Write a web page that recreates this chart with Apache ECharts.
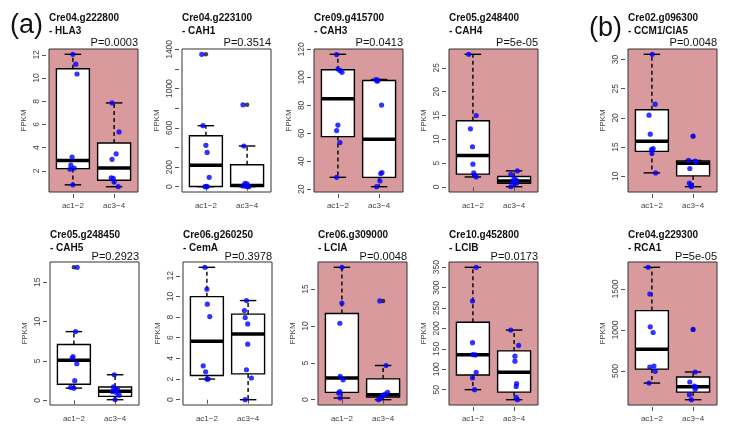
<!DOCTYPE html>
<html><head><meta charset="utf-8">
<script src="https://cdn.jsdelivr.net/npm/echarts@6/dist/echarts.min.js"></script>
<style>html,body{margin:0;padding:0;background:#fff}#c{width:736px;height:443px}</style>
</head><body><div id="c"></div>
<script>
// ---------- DATA ----------
const categories = ['ac1\u22122', 'ac3\u22124'];
const geneIds = ['Cre04.g222800','Cre04.g223100','Cre09.g415700','Cre05.g248400','Cre02.g096300',
                 'Cre05.g248450','Cre06.g260250','Cre06.g309000','Cre10.g452800','Cre04.g229300'];
const geneNames = ['- HLA3','- CAH1','- CAH3','- CAH4','- CCM1/CIA5','- CAH5','- CemA','- LCIA','- LCIB','- RCA1'];
const pLabels = ['P=0.0003','P=0.3514','P=0.0413','P=5e-05','P=0.0048','P=0.2923','P=0.3978','P=0.0048','P=0.0173','P=5e-05'];
const significant = [true,false,true,true,true,false,false,true,true,true];
const yTicks = [
  [2,4,6,8,10,12],
  [0,200,400,600,800,1000,1200,1400],
  [20,40,60,80,100,120],
  [0,5,10,15,20,25],
  [10,15,20,25,30],
  [0,5,10,15],
  [0,2,4,6,8,10,12],
  [0,5,10,15],
  [50,100,150,200,250,300,350],
  [500,1000,1500]
];
const yTickLabels = [
  [2,4,6,8,10,12],
  [0,200,600,1000,1400],
  [20,40,60,80,100,120],
  [0,5,10,15,20,25],
  [10,15,20,25,30],
  [0,5,10,15],
  [0,2,4,6,8,10,12],
  [0,5,10,15],
  [50,100,150,200,250,300,350],
  [500,1000,1500]
];
// five-number box stats: [lower whisker, Q1, median, Q3, upper whisker]
const boxAc12 = [
  [0.8, 2.2, 2.9, 10.8, 12.05],
  [0, 2, 220, 520, 622],
  [28.6, 57.7, 84.7, 105.5, 116.5],
  [2.1, 2.7, 6.6, 13.9, 27.85],
  [10.57, 14.25, 16.0, 21.4, 30.9],
  [1.55, 2.05, 5.1, 7.1, 8.73],
  [2.0, 2.35, 5.67, 9.98, 12.82],
  [0.23, 1.0, 2.96, 11.7, 17.96],
  [50, 86, 135.5, 215, 349.8],
  [353, 523, 765, 1237, 1765]
];
const boxAc34 = [
  [0.64, 1.2, 2.25, 4.4, 7.86],
  [0, 3, 12, 224, 415],
  [21.9, 28.6, 55.8, 97.8, 98.5],
  [0.05, 0.77, 1.27, 2.2, 3.37],
  [8.2, 10.05, 12.2, 12.6, 12.7],
  [0.08, 0.5, 1.14, 1.7, 3.25],
  [0, 2.5, 6.36, 8.29, 9.6],
  [0, 0.37, 0.68, 2.82, 4.64],
  [25.4, 44, 92.6, 145, 196],
  [150, 243, 308, 427, 488]
];
const outliersAc12 = [[],[1350],[],[],[],[16.9],[],[],[],[]];
const outliersAc34 = [[],[835],[],[],[16.86],[],[],[13.4],[],[1007]];
const pointsAc12 = [
  [12.05, 11.2, 10.35, 3.2, 2.5, 2.15, 2.25, 0.8],
  [1350, 622, 422, 350, 96, 0, 1, 3],
  [116.3, 106, 105, 103.6, 65.9, 62, 53.4, 28.6],
  [27.85, 15.0, 12.2, 8.44, 4.77, 2.95, 2.5, 2.1],
  [30.9, 22.35, 20.46, 17.2, 14.75, 14.58, 13.9, 10.57],
  [16.9, 8.73, 5.57, 5.36, 4.65, 2.5, 1.65, 1.55],
  [12.82, 10.7, 9.25, 8.05, 3.28, 2.7, 2.0, 2.0],
  [17.96, 13.1, 10.37, 3.18, 2.7, 1.1, 0.9, 0.23],
  [349.8, 267.5, 165, 136, 135, 92.6, 78.8, 50],
  [1765, 1439, 1039, 970, 561, 549, 496, 353]
];
const jitterAc12 = [
  [0, 0.07, 0.1, -0.02, -0.05, -0.07, 0.03, 0],
  [-0.1, -0.07, 0, 0.03, 0.08, -0.02, 0.03, 0.01],
  [-0.03, 0, 0.05, 0.1, 0, -0.03, 0.05, -0.03],
  [-0.1, 0.08, -0.06, -0.01, 0, 0.02, 0.04, 0.08],
  [0.01, 0.08, -0.07, -0.04, 0.03, -0.01, 0, 0.09],
  [0.08, 0.04, -0.02, -0.04, 0.07, 0.02, -0.08, 0],
  [-0.05, 0, 0.01, 0.07, -0.09, -0.03, 0, 0.03],
  [0, 0, -0.05, -0.04, 0.03, -0.05, -0.08, -0.04],
  [0.08, -0.01, -0.01, 0, 0.06, 0.08, -0.01, 0.04],
  [-0.09, -0.05, -0.04, 0.03, 0.05, -0.05, 0.08, -0.07]
];
const pointsAc34 = [
  [7.86, 5.36, 3.47, 3.0, 1.4, 1.35, 1.05, 0.64],
  [835, 415, 34, 28, 8, 4, 2, 0],
  [98.5, 98.0, 97.3, 80.2, 32.0, 31.3, 26.0, 21.9],
  [3.37, 2.66, 1.8, 1.45, 1.1, 0.85, 0.7, 0.05],
  [16.86, 12.7, 12.6, 12.4, 11.3, 8.8, 8.5, 8.2],
  [3.25, 1.7, 1.45, 1.35, 1.1, 0.93, 0.65, 0.1],
  [9.6, 8.63, 7.95, 7.34, 5.38, 2.9, 2.1, 0],
  [13.4, 4.64, 1.0, 0.76, 0.6, 0.5, 0.2, 0],
  [196, 158.4, 132, 119.7, 64.8, 58, 31, 25.4],
  [1007, 488, 366, 316, 304, 276, 211, 150]
];
const jitterAc34 = [
  [-0.05, 0.12, 0.05, -0.05, -0.07, -0.02, 0, 0.1],
  [-0.1, -0.08, -0.05, 0, -0.1, -0.03, 0.02, 0.04],
  [-0.08, -0.03, -0.05, 0.06, 0.07, 0.04, 0.02, -0.06],
  [0.08, -0.08, 0, 0.05, -0.04, 0.06, 0.02, -0.08],
  [0, -0.11, 0.05, 0.07, -0.08, -0.09, -0.05, -0.04],
  [-0.02, -0.04, 0.02, 0.06, -0.06, 0.04, 0.1, 0],
  [-0.04, -0.09, -0.07, -0.01, -0.01, -0.04, 0.08, -0.07],
  [-0.08, 0.07, 0.11, 0.05, 0, -0.03, -0.07, -0.11],
  [-0.08, 0.11, 0.02, 0.02, 0.06, 0.05, 0.05, 0.08],
  [0, 0.05, -0.08, 0.03, 0.07, 0.05, -0.09, -0.04]
];

// ---------- LAYOUT ----------
const panelLeft = [49, 182, 314, 449, 628, 50, 183, 318, 449, 628];
const panelTop  = [49, 49, 49, 49, 49, 262, 262, 262, 262, 262];
const panelW = 89, panelH = 143;
const PINK = '#d99a9e';
const FONT = '"Liberation Sans", Arial, sans-serif';

const chart = echarts.init(document.getElementById('c'), null, {renderer: 'canvas'});

function renderBox(params, api) {
  const x = api.value(0);
  const mn = api.value(1), q1 = api.value(2), md = api.value(3), q3 = api.value(4), mx = api.value(5);
  const hw = 0.4, sw = 0.2;
  const P = (a, b) => api.coord([a, b]);
  const lw = 1.4;
  const ch = [];
  const w1 = P(x, q3), w2 = P(x, mx), w3 = P(x, q1), w4 = P(x, mn);
  ch.push({type: 'line', shape: {x1: w1[0], y1: w1[1], x2: w2[0], y2: w2[1]}, style: {stroke: '#000', lineWidth: lw, lineDash: [4, 3]}});
  ch.push({type: 'line', shape: {x1: w3[0], y1: w3[1], x2: w4[0], y2: w4[1]}, style: {stroke: '#000', lineWidth: lw, lineDash: [4, 3]}});
  const s1 = P(x - sw, mx), s2 = P(x + sw, mx), s3 = P(x - sw, mn), s4 = P(x + sw, mn);
  ch.push({type: 'line', shape: {x1: s1[0], y1: s1[1], x2: s2[0], y2: s2[1]}, style: {stroke: '#000', lineWidth: lw}});
  ch.push({type: 'line', shape: {x1: s3[0], y1: s3[1], x2: s4[0], y2: s4[1]}, style: {stroke: '#000', lineWidth: lw}});
  const tl = P(x - hw, q3), br = P(x + hw, q1);
  ch.push({type: 'rect', shape: {x: tl[0], y: tl[1], width: br[0] - tl[0], height: br[1] - tl[1]}, style: {fill: '#fff', stroke: '#000', lineWidth: lw}});
  const m1 = P(x - hw, md), m2 = P(x + hw, md);
  ch.push({type: 'line', shape: {x1: m1[0], y1: m1[1], x2: m2[0], y2: m2[1]}, style: {stroke: '#000', lineWidth: 3.5}});
  return {type: 'group', children: ch};
}

const grids = [], xAxes = [], yAxes = [], series = [], graphics = [];
for (let i = 0; i < 10; i++) {
  const all = pointsAc12[i].concat(pointsAc34[i], boxAc12[i], boxAc34[i]);
  const lo = Math.min.apply(null, all), hi = Math.max.apply(null, all);
  const pad = 0.04 * (hi - lo);
  grids.push({left: panelLeft[i], top: panelTop[i], width: panelW, height: panelH, show: true,
    backgroundColor: significant[i] ? PINK : '#ffffff', borderColor: '#333', borderWidth: 1});
  xAxes.push({gridIndex: i, type: 'value', min: 0.42, max: 2.58, offset: 2,
    axisLine: {show: false}, splitLine: {show: false},
    axisTick: {show: true, length: 4, customValues: [1, 2], lineStyle: {color: '#555'}},
    axisLabel: {customValues: [1, 2], margin: 8, fontSize: 8, color: '#444', fontFamily: FONT,
      formatter: v => categories[Math.round(v) - 1]}});
  yAxes.push({gridIndex: i, type: 'value', min: lo - pad, max: hi + pad, offset: 3,
    name: 'FPKM', nameLocation: 'middle', nameGap: 18, nameRotate: 90,
    nameTextStyle: {fontSize: 8, color: '#444', fontFamily: FONT},
    axisLine: {show: false}, splitLine: {show: false},
    axisTick: {show: true, length: 4, customValues: yTicks[i], lineStyle: {color: '#555'}},
    axisLabel: {customValues: yTickLabels[i], rotate: 90, margin: 5, fontSize: 8.5, color: '#444', fontFamily: FONT,
      formatter: v => String(v)}});
  series.push({type: 'custom', xAxisIndex: i, yAxisIndex: i, renderItem: renderBox, silent: true,
    encode: {x: 0, y: [1, 2, 3, 4, 5]},
    data: [[1].concat(boxAc12[i]), [2].concat(boxAc34[i])]});
  const outs = outliersAc12[i].map(v => [1, v]).concat(outliersAc34[i].map(v => [2, v]));
  series.push({type: 'scatter', xAxisIndex: i, yAxisIndex: i, symbol: 'circle', symbolSize: 4.5, silent: true,
    itemStyle: {color: '#111'}, data: outs});
  const pts = pointsAc12[i].map((v, k) => [1 + jitterAc12[i][k], v])
    .concat(pointsAc34[i].map((v, k) => [2 + jitterAc34[i][k], v]));
  series.push({type: 'scatter', xAxisIndex: i, yAxisIndex: i, symbol: 'circle', symbolSize: 5.2, silent: true,
    itemStyle: {color: '#0000ff'}, data: pts});

  const row = i < 5 ? 0 : 1;
  const t1 = row === 0 ? 18 : 235, t2 = row === 0 ? 31 : 248, t3 = row === 0 ? 43 : 257;
  graphics.push({type: 'text', x: panelLeft[i], y: t1, style: {text: geneIds[i], fontSize: 10, fontWeight: 'bold', fontFamily: FONT, fill: '#111', textAlign: 'left', textVerticalAlign: 'middle'}});
  graphics.push({type: 'text', x: panelLeft[i], y: t2, style: {text: geneNames[i], fontSize: 10, fontWeight: 'bold', fontFamily: FONT, fill: '#111', textAlign: 'left', textVerticalAlign: 'middle'}});
  graphics.push({type: 'text', x: panelLeft[i] + panelW, y: t3, style: {text: pLabels[i], fontSize: 11, fontFamily: FONT, fill: '#111', textAlign: 'right', textVerticalAlign: 'middle'}});
}
graphics.push({type: 'text', x: 10, y: 26, style: {text: '(a)', fontSize: 27, fontFamily: FONT, fill: '#111', textAlign: 'left', textVerticalAlign: 'middle'}});
graphics.push({type: 'text', x: 589, y: 29, style: {text: '(b)', fontSize: 27, fontFamily: FONT, fill: '#111', textAlign: 'left', textVerticalAlign: 'middle'}});

chart.setOption({
  animation: false,
  backgroundColor: '#ffffff',
  grid: grids, xAxis: xAxes, yAxis: yAxes, series: series, graphic: graphics
});
</script></body></html>
